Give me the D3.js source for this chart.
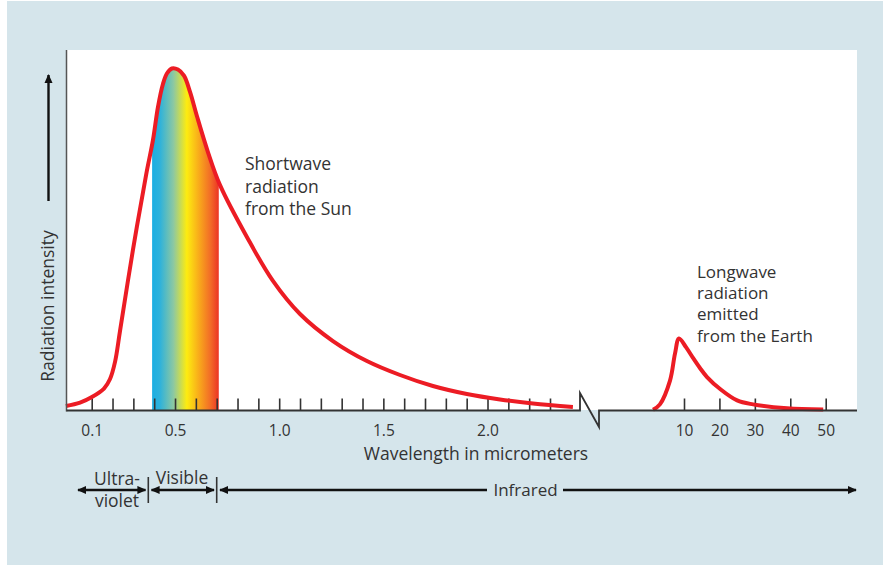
<!DOCTYPE html>
<html>
<head>
<meta charset="utf-8">
<script src="https://cdn.jsdelivr.net/npm/d3@7"></script>
<style>
  html, body { margin: 0; padding: 0; background: #ffffff; }
  svg { display: block; }
  text { font-family: "Open Sans", "Noto Sans", sans-serif; fill: #333333; }
</style>
</head>
<body>
<svg id="chart" width="883" height="565"></svg>
<script>
// ---------- data ----------
const sunWavelength = [-0.024, 0.044, 0.101, 0.159, 0.188, 0.212, 0.236, 0.298, 0.361, 0.394, 0.418, 0.442, 0.461, 0.485, 0.514, 0.543, 0.572, 0.605, 0.658, 0.716, 0.845, 0.970, 1.100, 1.258, 1.421, 1.580, 1.738, 1.901, 2.060, 2.218, 2.410];
const sunIntensity  = [1.25, 2.2, 3.75, 6.1, 8.75, 13.5, 22.1, 44.6, 65.4, 75.1, 84.3, 90.7, 93.6, 95.0, 94.7, 93.0, 88.5, 81.8, 71.8, 62.6, 48.2, 36.0, 26.8, 19.3, 13.75, 9.86, 6.8, 4.58, 3.06, 1.94, 0.97];

const earthWavelength = [1.25, 3.2, 6.05, 7.46, 8.6, 10.56, 12.54, 14.5, 16.5, 20.2, 25, 29.5, 39.1, 49.3];
const earthIntensity  = [0.2, 1.7, 8.3, 15.8, 20, 17.6, 14.6, 11.8, 9.3, 5.97, 2.8, 1.7, 0.6, 0.3];

const shortTicks  = [0.1, 0.2, 0.3, 0.4, 0.5, 0.6, 0.7, 0.8, 0.9, 1.0, 1.1, 1.2, 1.3, 1.4, 1.5, 1.6, 1.7, 1.8, 1.9, 2.0, 2.1, 2.2, 2.3];
const shortLabels = ["0.1", "0.5", "1.0", "1.5", "2.0"];
const longTicks   = [10, 20, 30, 40, 50];
const longLabels  = ["10", "20", "30", "40", "50"];

const visibleRange = [0.39, 0.71];

const gradientStops = [
  [0.00, "#1aaee3"], [0.12, "#2fb2da"], [0.32, "#8cc8a2"],
  [0.52, "#fdec10"], [0.72, "#f8a41c"], [0.88, "#f26a27"], [1.00, "#ec3424"]
];

const sunText   = ["Shortwave", "radiation", "from the Sun"];
const earthText = ["Longwave", "radiation", "emitted", "from the Earth"];

// ---------- layout ----------
const svg = d3.select("#chart");
const baseY = 410.5;
const panel = { left: 66.5, top: 50, right: 857, bottom: 410 };

const xL = d3.scaleLinear().domain([0.1, 2.3]).range([91.7, 550]);
const xR = d3.scaleLinear().domain([10, 50]).range([684, 825.7]);
const y  = d3.scaleLinear().domain([0, 100]).range([baseY, 50.5]);

// background
svg.append("rect").attr("x", 7).attr("y", 1).attr("width", 876).attr("height", 564).attr("fill", "#d5e5eb");
svg.append("rect").attr("x", panel.left).attr("y", panel.top)
  .attr("width", panel.right - panel.left).attr("height", panel.bottom - panel.top).attr("fill", "#ffffff");

const defs = svg.append("defs");
const grad = defs.append("linearGradient").attr("id", "spectrum")
  .attr("gradientUnits", "userSpaceOnUse")
  .attr("x1", xL(visibleRange[0])).attr("x2", xL(visibleRange[1]))
  .attr("y1", 0).attr("y2", 0);
gradientStops.forEach(s => grad.append("stop").attr("offset", s[0]).attr("stop-color", s[1]));

defs.append("clipPath").attr("id", "visClip").append("rect")
  .attr("x", xL(visibleRange[0])).attr("y", 0)
  .attr("width", xL(visibleRange[1]) - xL(visibleRange[0])).attr("height", baseY);

// arrow markers
const mk = defs.append("marker").attr("id", "arrowHead")
  .attr("viewBox", "0 0 10 10").attr("refX", 9).attr("refY", 5)
  .attr("markerWidth", 9).attr("markerHeight", 9).attr("markerUnits", "userSpaceOnUse")
  .attr("orient", "auto-start-reverse");
mk.append("path").attr("d", "M0,0.5 L10,5 L0,9.5 Z").attr("fill", "#111");

const sunData = sunWavelength.map((w, i) => [w, sunIntensity[i]]);
const earthData = earthWavelength.map((w, i) => [w, earthIntensity[i]]);

// visible-light fill
const area = d3.area().x(d => xL(d[0])).y0(baseY).y1(d => y(d[1])).curve(d3.curveCatmullRom.alpha(0.5));
svg.append("path").datum(sunData).attr("d", area)
  .attr("fill", "url(#spectrum)").attr("clip-path", "url(#visClip)");

// ticks
const axL = d3.axisBottom(xL).tickValues(shortTicks).tickSize(-12).tickPadding(14)
  .tickFormat(d => { const s = d3.format(".1f")(d); return shortLabels.includes(s) ? s : ""; });
const gL = svg.append("g").attr("transform", `translate(0,${baseY})`).call(axL);
const axR = d3.axisBottom(xR).tickValues(longTicks).tickSize(-12).tickPadding(14)
  .tickFormat((d, i) => longLabels[i]);
const gR = svg.append("g").attr("transform", `translate(0,${baseY})`).call(axR);
[gL, gR].forEach(g => {
  g.select(".domain").remove();
  g.selectAll(".tick line").attr("stroke", "#333").attr("stroke-width", 1.6);
  g.selectAll(".tick text").attr("font-size", 15.5).attr("fill", "#333")
    .style("font-family", "'Open Sans', sans-serif");
});

// curves
const lineL = d3.line().x(d => xL(d[0])).y(d => y(d[1])).curve(d3.curveCatmullRom.alpha(0.5));
const lineR = d3.line().x(d => xR(d[0])).y(d => y(d[1])).curve(d3.curveCatmullRom.alpha(0.5));
svg.append("path").datum(sunData).attr("d", lineL)
  .attr("fill", "none").attr("stroke", "#ec1c24").attr("stroke-width", 4).attr("stroke-linejoin", "round").attr("stroke-linecap", "butt");
svg.append("path").datum(earthData).attr("d", lineR)
  .attr("fill", "none").attr("stroke", "#ec1c24").attr("stroke-width", 4).attr("stroke-linejoin", "round").attr("stroke-linecap", "butt");

// axis lines
svg.append("line").attr("x1", panel.left).attr("x2", panel.left).attr("y1", panel.top).attr("y2", baseY + 1)
  .attr("stroke", "#555").attr("stroke-width", 1.5);
const breakL = 580, breakR = 599;
svg.append("path")
  .attr("d", `M${panel.left},${baseY} H${breakL} V${393} L${breakR},${427} V${baseY} H${panel.right}`)
  .attr("fill", "none").attr("stroke", "#333").attr("stroke-width", 1.8).attr("stroke-linejoin", "miter");

// y axis label + arrow
svg.append("text").attr("transform", "translate(54,306) rotate(-90)")
  .attr("text-anchor", "middle").attr("font-size", 17.5).text("Radiation intensity");
svg.append("line").attr("x1", 48.5).attr("x2", 48.5).attr("y1", 201).attr("y2", 75)
  .attr("stroke", "#111").attr("stroke-width", 2.4).attr("marker-end", "url(#arrowHead)");

// x axis title
svg.append("text").attr("x", 476).attr("y", 459.5).attr("text-anchor", "middle")
  .attr("font-size", 17.5).text("Wavelength in micrometers");

// annotations
sunText.forEach((t, i) => svg.append("text").attr("x", 245).attr("y", 170 + i * 22.6)
  .attr("font-size", 17.5).text(t));
earthText.forEach((t, i) => svg.append("text").attr("x", 697).attr("y", 278 + i * 21.2)
  .attr("font-size", 17).text(t));

// spectral bands
const bandY = 490;
const ar = (x1, x2, start, end) => {
  const l = svg.append("line").attr("x1", x1).attr("x2", x2).attr("y1", bandY).attr("y2", bandY)
    .attr("stroke", "#111").attr("stroke-width", 2.4);
  if (start) l.attr("marker-start", "url(#arrowHead)");
  if (end) l.attr("marker-end", "url(#arrowHead)");
};
ar(78, 145.5, true, true);
ar(151.5, 214, true, true);
ar(220, 487, true, false);
ar(563, 856, false, true);
[148.3, 216.7].forEach(x => svg.append("line").attr("x1", x).attr("x2", x).attr("y1", 477).attr("y2", 503)
  .attr("stroke", "#333").attr("stroke-width", 1.6));
svg.append("text").attr("x", 117).attr("y", 485).attr("text-anchor", "middle").attr("font-size", 17.5).text("Ultra-");
svg.append("text").attr("x", 117).attr("y", 507).attr("text-anchor", "middle").attr("font-size", 17.5).text("violet");
svg.append("text").attr("x", 182).attr("y", 484).attr("text-anchor", "middle").attr("font-size", 17.5).text("Visible");
svg.append("text").attr("x", 525.5).attr("y", 496).attr("text-anchor", "middle").attr("font-size", 17).text("Infrared");
</script>
</body>
</html>
